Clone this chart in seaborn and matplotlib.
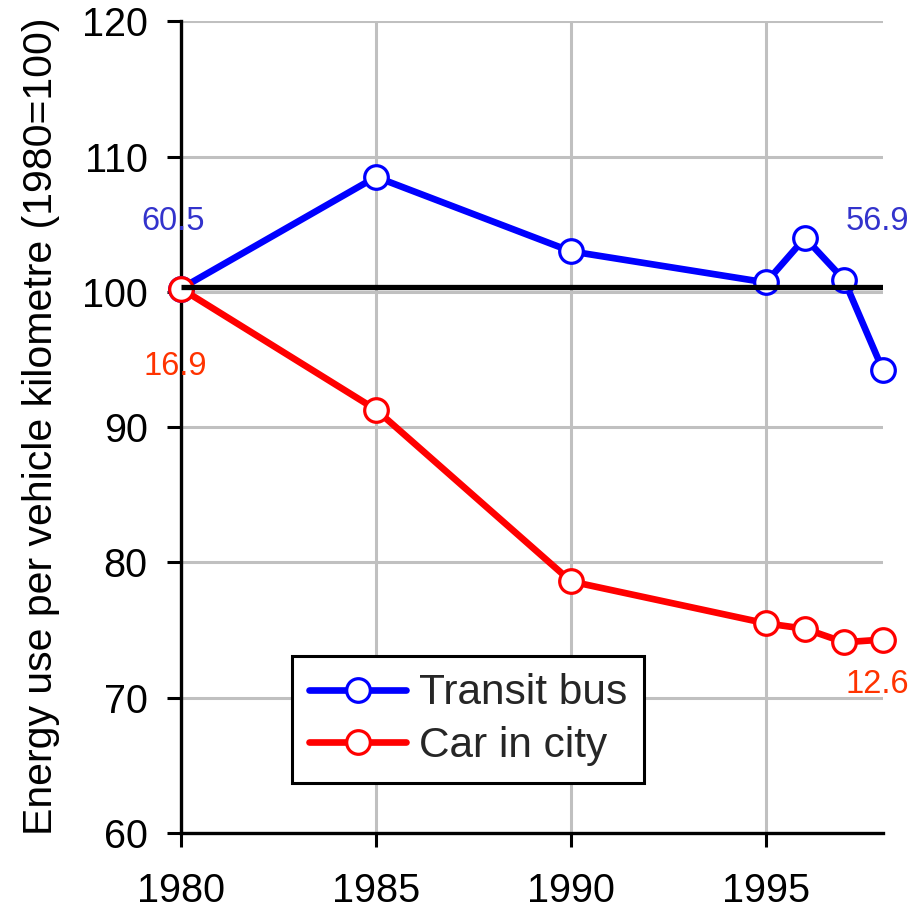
import matplotlib
matplotlib.use("Agg")
import matplotlib.pyplot as plt
import seaborn as sns
import pandas as pd

# ---- data ----
years_bus = [1980, 1985, 1990, 1995, 1996, 1997, 1998]
transit_bus = [100.25, 108.5, 103.0, 100.7, 104.0, 100.9, 94.2]
years_car = [1980, 1985, 1990, 1995, 1996, 1997, 1998]
car_in_city = [100.25, 91.3, 78.6, 75.5, 75.1, 74.1, 74.3]
baseline_value = 100.4
series_names = ["Transit bus", "Car in city"]
annot_texts = ["60.5", "16.9", "56.9", "12.6"]
annot_x = [1979.8, 1979.85, 1997.85, 1997.85]
annot_y = [105.2, 94.5, 105.2, 71.0]
annot_colors = ["#3333cc", "#ff3300", "#3333cc", "#ff3300"]
x_ticks = [1980, 1985, 1990, 1995]
y_ticks = [60, 70, 80, 90, 100, 110, 120]
y_label = "Energy use per vehicle kilometre (1980=100)"

sns.set_theme(style="white")
plt.rcParams["font.family"] = ["Liberation Sans", "DejaVu Sans"]

fig = plt.figure(figsize=(9.23, 9.13), dpi=100)
ax = fig.add_axes([0.196, 0.0876, 0.7607, 0.889])

df_bus = pd.DataFrame({"year": years_bus, "value": transit_bus})
df_car = pd.DataFrame({"year": years_car, "value": car_in_city})

common = dict(marker="o", markersize=17, markerfacecolor="white",
              markeredgewidth=2.3, linewidth=4.8, clip_on=False, zorder=3)
sns.lineplot(data=df_bus, x="year", y="value", ax=ax, color="#0000ff",
             markeredgecolor="#0000ff", label=series_names[0], **common)
sns.lineplot(data=df_car, x="year", y="value", ax=ax, color="#ff0000",
             markeredgecolor="#ff0000", label=series_names[1], **common)

ax.plot([years_bus[0], years_bus[-1]], [baseline_value, baseline_value],
        color="black", linewidth=3.8, zorder=4, solid_capstyle="butt")

for t, x, y, c in zip(annot_texts, annot_x, annot_y, annot_colors):
    ax.text(x, y, t, color=c, fontsize=23.5, ha="center", va="center", zorder=5)

ax.set_xlim(1980, 1998)
ax.set_ylim(60, 120)
ax.set_xticks(x_ticks)
ax.set_yticks(y_ticks)
ax.grid(True, color="#c0c0c0", linewidth=2.2)
ax.set_axisbelow(True)
for s in ["top", "right"]:
    ax.spines[s].set_visible(False)
for s in ["left", "bottom"]:
    ax.spines[s].set_color("black")
    ax.spines[s].set_linewidth(2.4)
ax.tick_params(axis="both", which="major", direction="out", length=10,
               width=2.2, color="black", labelsize=28.5, labelcolor="black",
               left=True, bottom=True)
ax.tick_params(axis="x", pad=18)
ax.tick_params(axis="y", pad=14)
ax.set_xlabel("")
ax.set_ylabel(y_label, fontsize=29.5, color="black")
ax.yaxis.set_label_coords(-0.172, 0.5015)

leg = ax.legend(loc="lower left", bbox_to_anchor=(0.158, 0.0616),
                borderaxespad=0, fontsize=30.5, frameon=True, fancybox=False,
                edgecolor="black", framealpha=1, handlelength=2.3,
                handletextpad=0.3, borderpad=0.4, labelspacing=0.3)
leg.get_frame().set_linewidth(2.2)

fig.savefig("out.png", dpi=100, facecolor="white")
